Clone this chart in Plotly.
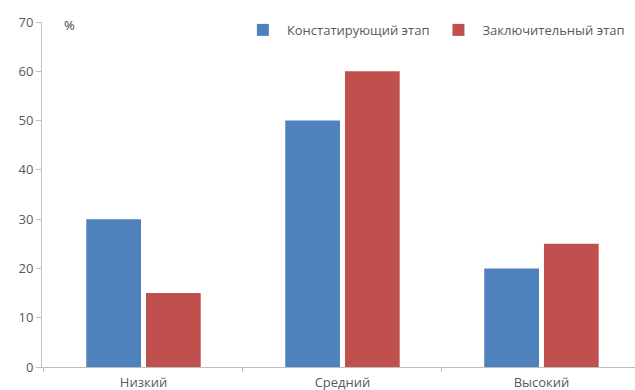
import plotly.graph_objects as go

categories = ["Низкий", "Средний", "Высокий"]
stage_initial = [30, 50, 20]
stage_final = [15, 60, 25]
series_names = ["Констатирующий этап", "Заключительный этап"]
y_ticks = [0, 10, 20, 30, 40, 50, 60, 70]

font_family = "Open Sans, Noto Sans, DejaVu Sans, sans-serif"
grey_text = "#595959"
axis_grey = "#BFBFBF"

fig = go.Figure()
fig.add_trace(go.Bar(x=categories, y=stage_initial, name=series_names[0],
                     marker=dict(color="#4F81BD", line=dict(width=0))))
fig.add_trace(go.Bar(x=categories, y=stage_final, name=series_names[1],
                     marker=dict(color="#C0504D", line=dict(width=0))))

fig.update_layout(
    width=635, height=390,
    margin=dict(l=42, r=0, t=22, b=23),
    paper_bgcolor="white", plot_bgcolor="white",
    barmode="group", bargap=0.4, bargroupgap=0.083,
    font=dict(family=font_family, size=13, color=grey_text),
    showlegend=True,
    legend=dict(orientation="h", x=0.332, y=0.977, xanchor="left", yanchor="middle",
                font=dict(size=13, color=grey_text), itemwidth=38,
                traceorder="normal", bgcolor="rgba(0,0,0,0)"),
    annotations=[dict(text="%", xref="paper", yref="paper", x=0.033, y=0.99,
                      xanchor="left", yanchor="middle", showarrow=False,
                      font=dict(size=13, color="#404040"))],
)

fig.update_xaxes(
    type="category", range=[-0.51, 2.47], showline=True, linecolor=axis_grey,
    linewidth=1, ticks="outside", tickson="boundaries", ticklen=4,
    tickcolor=axis_grey, showgrid=False, automargin=False,
    ticklabelstandoff=3, tickfont=dict(size=13, color=grey_text),
)
fig.update_yaxes(
    range=[0, 70], tickvals=y_ticks, showline=True, linecolor=axis_grey,
    linewidth=1, ticks="outside", ticklen=5, tickcolor=axis_grey,
    showgrid=False, zeroline=False, automargin=False,
    tickfont=dict(size=13, color=grey_text),
)

fig.write_html("out.html")
